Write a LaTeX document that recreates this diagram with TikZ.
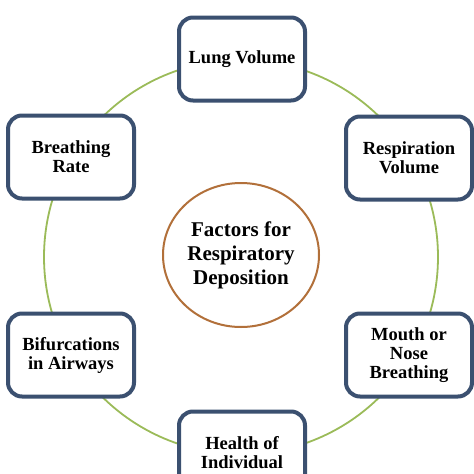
\documentclass[tikz,border=0pt]{standalone}
\usepackage{fontspec}
\setmainfont{Liberation Serif}
\usetikzlibrary{shapes.geometric}
\definecolor{ringgreen}{RGB}{155,187,89}
\definecolor{boxblue}{RGB}{59,80,112}
\definecolor{hubbrown}{RGB}{178,112,58}
\tikzset{
  factorbox/.style={draw=boxblue, line width=4pt, rounded corners=14pt, fill=white,
    minimum width=126pt, minimum height=83pt, align=center, inner sep=2pt,
    font=\bfseries\fontsize{18.5}{19}\selectfont},
  hub/.style={ellipse, draw=hubbrown, line width=2pt, fill=white,
    minimum width=156pt, minimum height=144pt, align=center, inner sep=0pt,
    font=\bfseries\fontsize{21}{24}\selectfont},
  ring/.style={draw=ringgreen, line width=1.8pt}
}
\begin{document}
\begin{tikzpicture}[x=1pt,y=-1pt]
\useasboundingbox (0,0) rectangle (474,474);
\fill[white] (0,0) rectangle (474,474);
\coordinate (c) at (241,257);
\draw[ring] (c) circle[radius=197];
\node[hub] (hubnode) at (241,255) {Factors for\\Respiratory\\Deposition};
\node[factorbox] (lung) at (242,59) {Lung Volume};
\node[factorbox] (rate) at (71,157) {Breathing\\Rate};
\node[factorbox] (resp) at (409,158) {Respiration\\Volume};
\node[factorbox] (bif) at (71,355) {Bifurcations\\in Airways};
\node[factorbox] (mouth) at (409,355) {Mouth or\\Nose\\Breathing};
\node[factorbox] (health) at (242,453) {Health of\\Individual};
\end{tikzpicture}
\end{document}
